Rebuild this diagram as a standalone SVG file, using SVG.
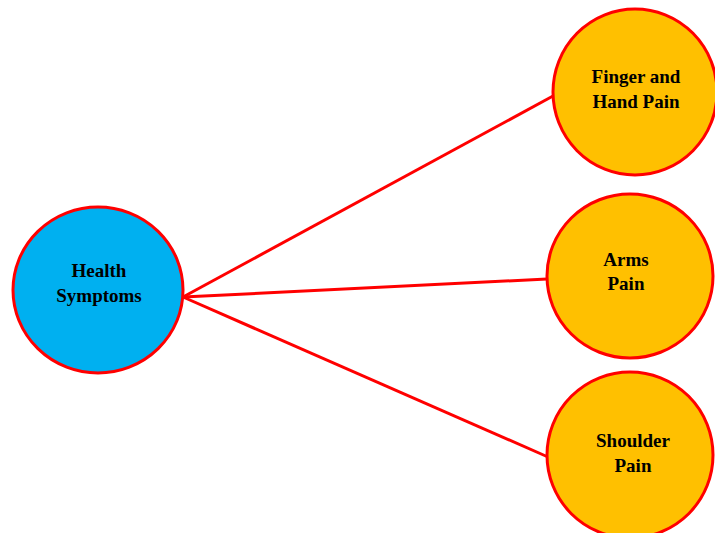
<svg xmlns="http://www.w3.org/2000/svg" width="715" height="533" viewBox="0 0 715 533">
<style>
.node{stroke:#FF0000;stroke-width:3}
.blue{fill:#00B0F0}
.orange{fill:#FFC000}
.lbl{font-family:"Liberation Serif","Times New Roman",serif;font-weight:bold;font-size:19px;fill:#000;text-anchor:middle}
.edge{stroke:#FF0000;stroke-width:3;fill:none}
</style>
<rect width="715" height="533" fill="#fff"/>
<g id="connectors">
<line class="edge" x1="183" y1="297" x2="553" y2="96"/>
<line class="edge" x1="183" y1="297" x2="547" y2="279"/>
<line class="edge" x1="183" y1="297" x2="548" y2="457"/>
</g>
<g id="health-symptoms">
<ellipse class="node blue" cx="98" cy="290" rx="85" ry="83"/>
<text class="lbl" x="99" y="277">Health</text>
<text class="lbl" x="99" y="302">Symptoms</text>
</g>
<g id="finger-hand-pain">
<ellipse class="node orange" cx="635" cy="92" rx="82" ry="83"/>
<text class="lbl" x="636" y="83">Finger and</text>
<text class="lbl" x="636" y="108">Hand Pain</text>
</g>
<g id="arms-pain">
<ellipse class="node orange" cx="630" cy="276" rx="83" ry="82"/>
<text class="lbl" x="626" y="266">Arms</text>
<text class="lbl" x="626" y="290">Pain</text>
</g>
<g id="shoulder-pain">
<ellipse class="node orange" cx="630" cy="455" rx="83" ry="83"/>
<text class="lbl" x="633" y="447">Shoulder</text>
<text class="lbl" x="633" y="472">Pain</text>
</g>
</svg>
